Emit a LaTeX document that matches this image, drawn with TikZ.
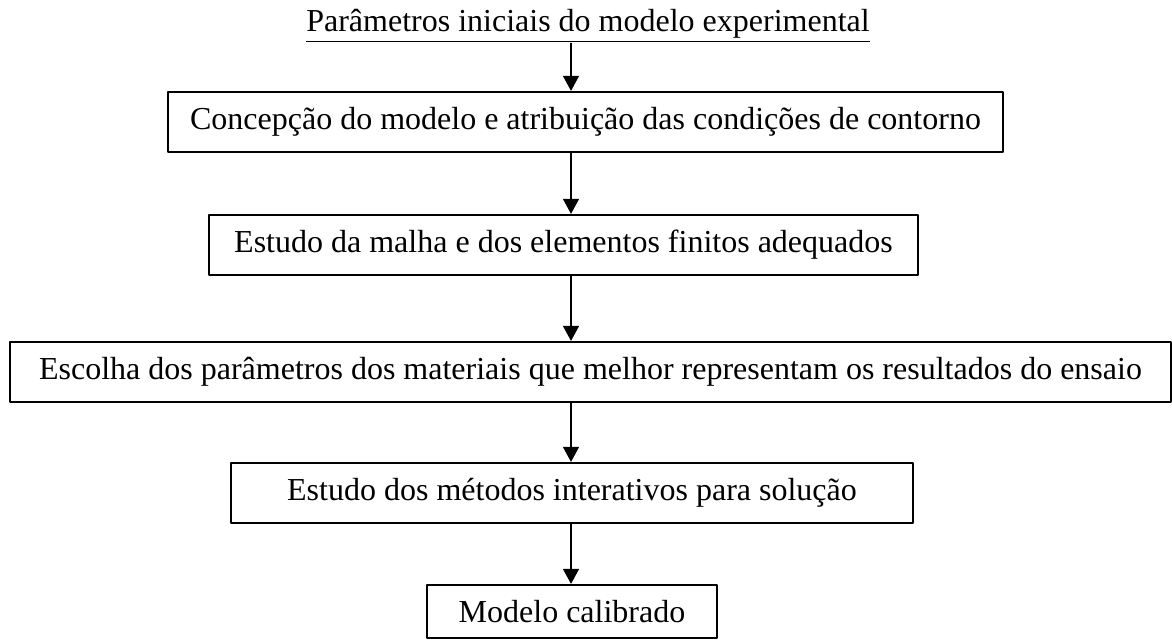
\documentclass[tikz,border=0pt]{standalone}
\usepackage{fontspec}
\setmainfont{Liberation Serif}
\usetikzlibrary{arrows.meta}

\begin{document}
\begin{tikzpicture}[x=0.5pt,y=-0.5pt,line cap=round,line join=round,
  font=\fontsize{16}{19}\selectfont,
  caixa/.style={draw,line width=1.1pt,inner sep=0pt,minimum height=30pt},
  seta/.style={-{Triangle[length=7.5pt,width=8pt]},line width=0.6pt}]

  \useasboundingbox (0,0) rectangle (1172,640);

  %-------------------------
  % Titulo
  %-------------------------
  \node[anchor=base,inner sep=0pt] (titulo) at (588,32)
       {\underline{Parâmetros iniciais do modelo experimental}};

  %-------------------------
  % Caixas
  %-------------------------
  \node[caixa,minimum width=417.5pt] (concepcao) at (585.5,122)
       {Concepção do modelo e atribuição das condições de contorno};
  \node[caixa,minimum width=354.5pt] (malha) at (563.5,245)
       {Estudo da malha e dos elementos finitos adequados};
  \node[caixa,minimum width=580.5pt] (materiais) at (590.5,372)
       {Escolha dos parâmetros dos materiais que melhor representam os resultados do ensaio};
  \node[caixa,minimum width=341pt] (metodos) at (572,493)
       {Estudo dos métodos interativos para solução};
  \node[caixa,minimum width=145pt,minimum height=26.5pt] (calibrado) at (572,611.5)
       {Modelo calibrado};

  %-------------------------
  % Setas
  %-------------------------
  \coordinate (eixo) at (571,0);

  \draw[seta] (titulo.south -| eixo) -- (concepcao.north -| eixo);
  \draw[seta] (concepcao.south -| eixo) -- (malha.north -| eixo);
  \draw[seta] (malha.south -| eixo) -- (materiais.north -| eixo);
  \draw[seta] (materiais.south -| eixo) -- (metodos.north -| eixo);
  \draw[seta] (metodos.south -| eixo) -- (calibrado.north -| eixo);

\end{tikzpicture}
\end{document}
